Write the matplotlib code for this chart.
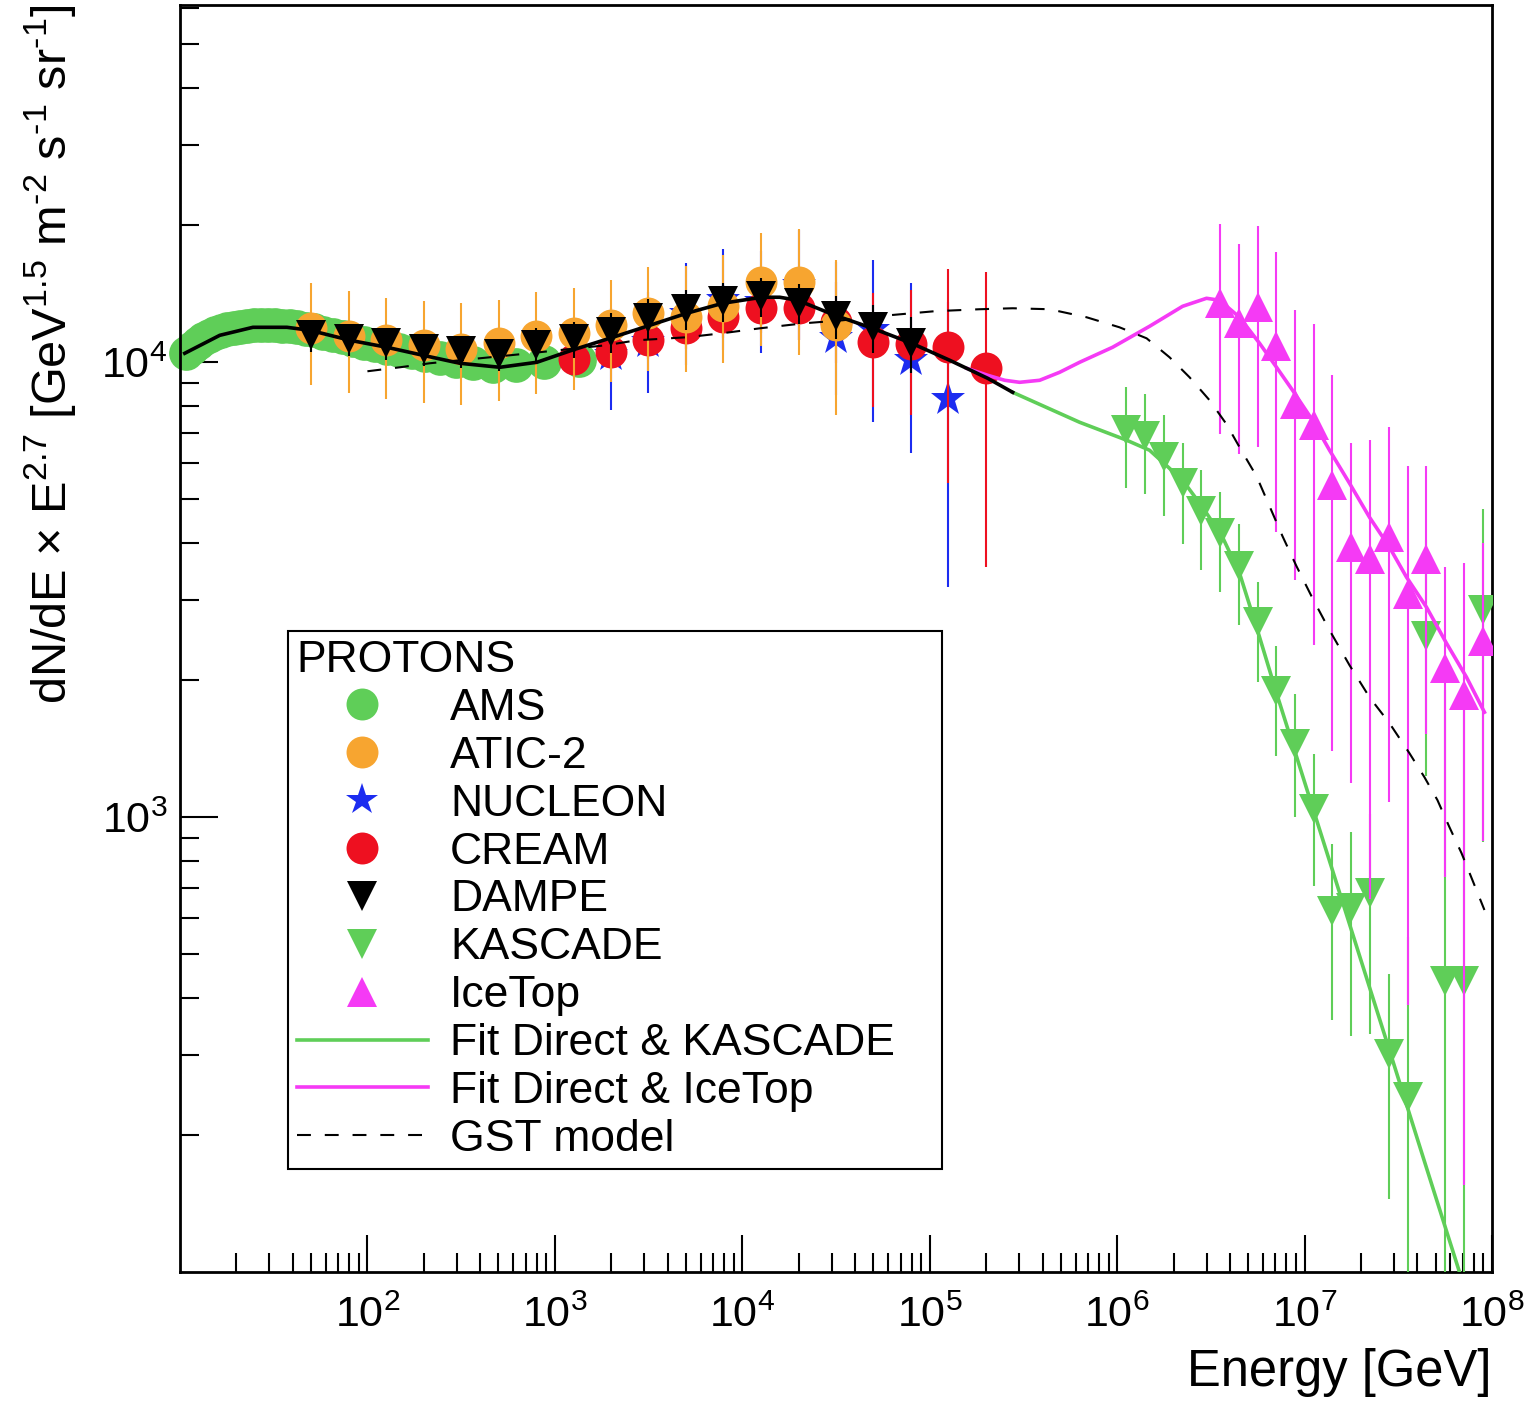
import numpy as np
import matplotlib
matplotlib.use('Agg')
import matplotlib.pyplot as plt
from matplotlib.lines import Line2D
from matplotlib.ticker import LogLocator, FixedLocator, FixedFormatter, NullFormatter

plt.rcParams['font.family'] = ['Liberation Sans', 'DejaVu Sans']
plt.rcParams['mathtext.fontset'] = 'custom'
plt.rcParams['mathtext.rm'] = 'Liberation Sans'
plt.rcParams['mathtext.it'] = 'Liberation Sans:italic'
plt.rcParams['mathtext.bf'] = 'Liberation Sans:bold'
plt.rcParams['mathtext.default'] = 'regular'
plt.rcParams['lines.scale_dashes'] = False

# ---------------- data (energy in GeV, flux x E^2.7) ----------------
AMS_E = [10.8, 11.6, 12.4, 13.3, 14.3, 15.4, 16.6, 17.9, 19.4, 21.0, 22.8, 24.8, 27.0,
         29.4, 32.0, 35.0, 38.4, 42.3, 46.8, 52.0, 58.2, 65.4, 74.0, 84.0, 96.0, 110,
         127, 147, 172, 204, 245, 297, 367, 465, 617, 880, 1350]
AMS_F = [10470, 10760, 11010, 11230, 11420, 11590, 11720, 11830, 11910, 11970, 12020,
         12050, 12060, 12060, 12050, 12030, 11990, 11930, 11850, 11750, 11620, 11490,
         11340, 11190, 11040, 10890, 10770, 10650, 10520, 10380, 10230, 10080, 9950,
         9820, 9850, 10000, 10100]

ATIC_E = [50.1, 79.4, 126, 200, 316, 501, 794, 1260, 2000, 3160, 5010, 7940, 12600, 20000, 31600]
ATIC_F = [11880, 11400, 11180, 10900, 10680, 11010, 11400, 11580, 12060, 12810, 12560, 13280, 14990, 14990, 12060]
ATIC_HI = [14910, 14320, 13830, 13620, 13480, 13740, 14260, 14540, 15140, 16180, 16260, 17180, 19210, 19600, 16750]
ATIC_LO = [8900, 8550, 8290, 8130, 8040, 8210, 8510, 8680, 9040, 9560, 9510, 9950, 10840, 10360, 7650]

NUCLEON_E = [2000, 3160, 5010, 7940, 12600, 20000, 31600, 50100, 79400, 126000]
NUCLEON_F = [10360, 11070, 12750, 13690, 13550, 14760, 11290, 11760, 10100, 8290]
NUCLEON_HI = [13150, 14250, 16510, 17720, 17540, 19500, 16600, 16750, 14910, 13550]
NUCLEON_LO = [7840, 8550, 9850, 10630, 10470, 11180, 8460, 7400, 6310, 3200]

CREAM_E = [1260, 2000, 3160, 5010, 7940, 12600, 20000, 31600, 50100, 79400, 126000, 200000]
CREAM_F = [10150, 10520, 11180, 11880, 12560, 13150, 13150, 12250, 11070, 10950, 10790, 9700]
CREAM_HI = [10760, 11360, 12180, 13060, 13810, 14720, 15120, 14990, 14190, 14390, 16010, 15780]
CREAM_LO = [9540, 9680, 10170, 10690, 11300, 11570, 11180, 9950, 7960, 7650, 5420, 3540]

DAMPE_E = [50.1, 79.4, 126, 200, 316, 501, 794, 1260, 2000, 3160, 5010, 7940, 12600,
           20000, 31600, 50100, 79400]
DAMPE_F = [11460, 11230, 11010, 10680, 10570, 10410, 10900, 11230, 11640, 12500, 13080,
           13610, 13960, 13480, 12620, 11940, 11010]
DAMPE_REL = [0.08, 0.08, 0.08, 0.08, 0.08, 0.08, 0.09, 0.09, 0.10, 0.10, 0.10, 0.10,
             0.10, 0.10, 0.11, 0.12, 0.14]

KAS_E = [1.12e6, 1.41e6, 1.78e6, 2.24e6, 2.82e6, 3.55e6, 4.47e6, 5.62e6, 7.08e6, 8.91e6,
         1.12e7, 1.41e7, 1.78e7, 2.24e7, 2.82e7, 3.55e7, 4.47e7, 5.62e7, 7.08e7, 8.91e7]
KAS_F = [7100, 6890, 6190, 5430, 4710, 4210, 3570, 2680, 1890, 1450, 1043, 622, 631, 681,
         301, 243, 2500, 437, 437, 2860]
KAS_HI = [8825, 8535, 7650, 6645, 5790, 5190, 4420, 3290, 2376, 1864, 1376, 872, 927, 1015,
          452, 545, 4060, 1900, 1900, 4770]
KAS_LO = [5300, 5130, 4590, 3995, 3490, 3130, 2640, 1980, 1362, 1002, 706, 358, 330, 333,
          145, 30, 1231, 30, 30, 880]

ICETOP_E = [3.55e6, 4.47e6, 5.62e6, 7.08e6, 8.91e6, 1.12e7, 1.41e7, 1.78e7, 2.24e7, 2.82e7,
            3.55e7, 4.47e7, 5.62e7, 7.08e7, 8.91e7]
ICETOP_F = [13510, 12210, 13230, 10860, 8110, 7280, 5370, 3930, 3700, 4130, 3090, 3700,
            2130, 1860, 2440]
ICETOP_HI = [20170, 18170, 19900, 17480, 13010, 12120, 9360, 6650, 6760, 7210, 5910, 5910,
             3550, 3620, 4000]
ICETOP_LO = [6970, 6280, 6520, 4240, 3320, 2390, 1400, 1190, 660, 1080, 386, 1520, 738, 155, 886]

FIT_DIRECT_E = [10.6, 16.3, 24.5, 37.2, 49.4, 80.7, 127, 198, 311, 509, 802, 1232, 2039,
                3211, 5058, 7870, 12700, 15850, 19770, 31140, 49660, 80170, 127900,
                203900, 277200]
FIT_DIRECT_F = [10466, 11463, 11937, 11937, 11757, 11178, 10789, 10360, 9950, 9750, 10000,
                10627, 11348, 12058, 12817, 13482, 13898, 13898, 13688, 12690, 11875,
                11010, 10102, 9222, 8590]

FIT_KAS_E = [277200, 631000, 1.124e6, 1.491e6, 2.236e6, 2.858e6, 3.653e6, 4.5e6, 5.546e6,
             7.09e6, 1.103e7, 1.738e7, 2.772e7, 4.365e7, 6.71e7, 8.57e7]
FIT_KAS_F = [8590, 7381, 6741, 6406, 5505, 4801, 4125, 3439, 2616, 1873, 1052, 582, 317,
             175, 100, 72.6]

FIT_ICE_E = [157500, 203900, 251200, 302000, 386200, 493500, 631000, 946000, 1.491e6,
             2.236e6, 3.0e6, 3.52e6, 4.5e6, 5.754e6, 7.09e6, 8.63e6, 1.103e7, 1.36e7,
             1.738e7, 2.222e7, 2.84e7, 3.5e7, 4.475e7, 5.72e7, 7.31e7, 9.12e7]
FIT_ICE_F = [9701, 9364, 9129, 9036, 9129, 9506, 10000, 10789, 12000, 13276, 13826, 13688,
             12560, 11010, 9750, 8680, 7457, 6406, 5421, 4563, 3921, 3370, 2894, 2412,
             2032, 1701]

GST_E = [100, 149, 215, 450, 650, 1870, 2735, 5058, 7780, 12390, 21280, 34360, 61200,
         106400, 184800, 277300, 436500, 687000, 1.03e6, 1.437e6, 1.905e6, 2.436e6,
         3.114e6, 3.837e6, 4.5e6, 5.546e6, 6.507e6, 7.63e6, 9.06e6, 1.103e7, 1.36e7,
         1.738e7, 2.222e7, 2.84e7, 3.63e7, 4.365e7, 5.12e7, 5.93e7, 6.877e7, 7.87e7, 9.12e7]
GST_F = [9555, 9750, 9950, 10256, 10413, 10899, 11178, 11350, 11580, 11875, 12180, 12370,
         12690, 12950, 13080, 13145, 13080, 12560, 11937, 11290, 10256, 9268, 8252, 7306,
         6506, 5617, 4826, 4146, 3562, 3029, 2576, 2158, 1835, 1609, 1382, 1224, 1090,
         951, 834, 727, 625]

X_TICKS = [1e2, 1e3, 1e4, 1e5, 1e6, 1e7, 1e8]
X_TICK_LABELS = ['$10^{2}$', '$10^{3}$', '$10^{4}$', '$10^{5}$', '$10^{6}$', '$10^{7}$', '$10^{8}$']
Y_TICKS = [1e3, 1e4]
Y_TICK_LABELS = ['$10^{3}$', '$10^{4}$']

LEGEND_LABELS = ['AMS', 'ATIC-2', 'NUCLEON', 'CREAM', 'DAMPE', 'KASCADE', 'IceTop',
                 'Fit Direct & KASCADE', 'Fit Direct & IceTop', 'GST model']

# ---------------- style ----------------
GREEN = '#5fce58'
ORANGE = '#f7a530'
BLUE = '#1c2cf0'
RED = '#ee1020'
MAGENTA = '#f53af5'
MS = 23
ELW = 1.5
CAP = 3

fig = plt.figure(figsize=(15.28, 14.04), dpi=100)
ax = fig.add_axes([0.1178, 0.0940, 0.8586, 0.9024])
ax.set_xscale('log')
ax.set_yscale('log')
ax.set_xlim(10, 1e8)
ax.set_ylim(100, 6.1e4)


def errs(f, hi, lo):
    f = np.asarray(f, float)
    return [f - np.asarray(lo, float), np.asarray(hi, float) - f]


ax.plot(AMS_E, AMS_F, ls='none', marker='o', ms=25, color=GREEN, mew=0, zorder=2,
        clip_on=False)
ax.errorbar(NUCLEON_E, NUCLEON_F, yerr=errs(NUCLEON_F, NUCLEON_HI, NUCLEON_LO), fmt='*',
            ms=26, color=BLUE, mew=0, elinewidth=ELW, capsize=CAP, capthick=ELW, zorder=3)
ax.errorbar(CREAM_E, CREAM_F, yerr=errs(CREAM_F, CREAM_HI, CREAM_LO), fmt='o',
            ms=MS, color=RED, mew=0, elinewidth=ELW, capsize=CAP, capthick=ELW, zorder=4)
ax.errorbar(ATIC_E, ATIC_F, yerr=errs(ATIC_F, ATIC_HI, ATIC_LO), fmt='o',
            ms=MS, color=ORANGE, mew=0, elinewidth=ELW, capsize=CAP, capthick=ELW, zorder=5)
dF = np.asarray(DAMPE_F) * np.asarray(DAMPE_REL)
ax.errorbar(DAMPE_E, DAMPE_F, yerr=dF, fmt='v', ms=22, color='black', mew=0,
            elinewidth=ELW, capsize=CAP, capthick=ELW, zorder=6)
ax.errorbar(KAS_E, KAS_F, yerr=errs(KAS_F, KAS_HI, KAS_LO), fmt='v', ms=22, color=GREEN,
            mew=0, elinewidth=ELW, capsize=CAP, capthick=ELW, zorder=7)
ax.errorbar(ICETOP_E, ICETOP_F, yerr=errs(ICETOP_F, ICETOP_HI, ICETOP_LO), fmt='^', ms=22,
            color=MAGENTA, mew=0, elinewidth=ELW, capsize=CAP, capthick=ELW, zorder=8)

ax.plot(FIT_KAS_E, FIT_KAS_F, color=GREEN, lw=2.6, zorder=9)
ax.plot(FIT_ICE_E, FIT_ICE_F, color=MAGENTA, lw=2.6, zorder=9)
ax.plot(FIT_DIRECT_E, FIT_DIRECT_F, color='black', lw=2.6, zorder=10)
ax.plot(GST_E, GST_F, color='black', lw=1.5, dashes=(10, 10), zorder=11)

# axes styling (ROOT-like)
for s in ax.spines.values():
    s.set_linewidth(2.0)
ax.xaxis.set_major_locator(FixedLocator(X_TICKS))
ax.xaxis.set_major_formatter(FixedFormatter(X_TICK_LABELS))
ax.xaxis.set_minor_locator(LogLocator(base=10, subs=np.arange(2, 10), numticks=100))
ax.xaxis.set_minor_formatter(NullFormatter())
ax.yaxis.set_major_locator(FixedLocator(Y_TICKS))
ax.yaxis.set_major_formatter(FixedFormatter(Y_TICK_LABELS))
ax.yaxis.set_minor_locator(LogLocator(base=10, subs=np.arange(2, 10), numticks=100))
ax.yaxis.set_minor_formatter(NullFormatter())
ax.tick_params(which='both', direction='in', top=False, right=False, width=1.5)
ax.tick_params(which='major', length=27, labelsize=31)
ax.tick_params(which='minor', length=13.5)
ax.tick_params(axis='x', which='major', pad=17)
ax.tick_params(axis='y', which='major', pad=9)

ax.set_xlabel('Energy [GeV]', fontsize=36.5, loc='right')
ax.xaxis.set_label_coords(1.0, -0.060)
ax.set_ylabel(r'dN/dE × E$^{2.7}$ [GeV$^{1.5}$ m$^{\text{-}2}$ s$^{\text{-}1}$ sr$^{\text{-}1}$]',
              fontsize=35, loc='top')
ax.yaxis.set_label_coords(-0.078, 1.0)

handles = [
    Line2D([], [], ls='none', marker='o', ms=MS, color=GREEN, mew=0),
    Line2D([], [], ls='none', marker='o', ms=MS, color=ORANGE, mew=0),
    Line2D([], [], ls='none', marker='*', ms=24, color=BLUE, mew=0),
    Line2D([], [], ls='none', marker='o', ms=MS, color=RED, mew=0),
    Line2D([], [], ls='none', marker='v', ms=22, color='black', mew=0),
    Line2D([], [], ls='none', marker='v', ms=22, color=GREEN, mew=0),
    Line2D([], [], ls='none', marker='^', ms=22, color=MAGENTA, mew=0),
    Line2D([], [], color=GREEN, lw=2.6),
    Line2D([], [], color=MAGENTA, lw=2.6),
    Line2D([], [], color='black', lw=1.5, dashes=(10, 10)),
]
leg = ax.legend(handles, LEGEND_LABELS, title='PROTONS', loc='upper left',
                bbox_to_anchor=(0.0823, 0.0829, 0.4985, 0.4230), mode='expand',
                fontsize=32, title_fontsize=32, alignment='left', frameon=True,
                fancybox=False, edgecolor='black', framealpha=1, borderpad=0.2,
                labelspacing=0.155, handlelength=2.95, handletextpad=0.5,
                borderaxespad=0)
leg.get_frame().set_linewidth(1.5)
leg.set_zorder(20)

fig.savefig('out.png', dpi=100)
